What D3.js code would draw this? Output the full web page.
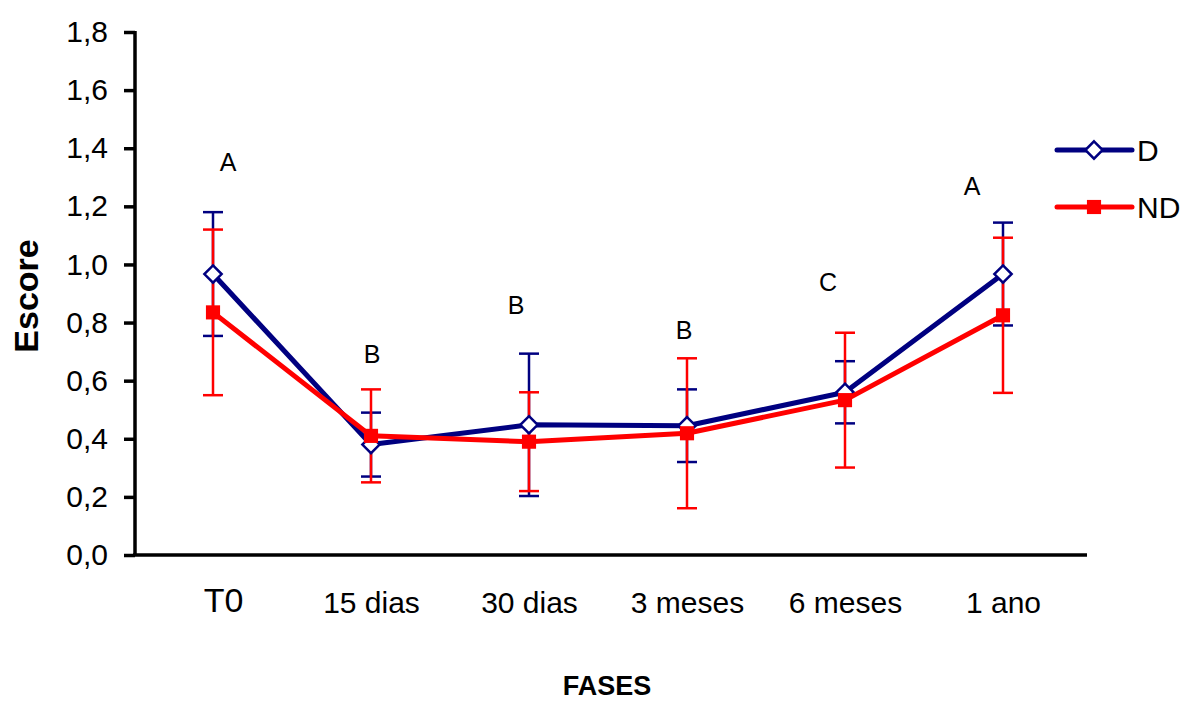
<!DOCTYPE html>
<html>
<head>
<meta charset="utf-8">
<script src="https://cdn.jsdelivr.net/npm/d3@7"></script>
<style>
  body { margin: 0; background: #fff; }
  svg { display: block; font-family: "Liberation Sans", Arial, sans-serif; }
</style>
</head>
<body>
<svg id="chart" width="1186" height="702"></svg>
<script>
"use strict";

// chart values
var fases = ["T0", "15 dias", "30 dias", "3 meses", "6 meses", "1 ano"];
var seriesNames = ["D", "ND"];
var dMean = [0.967, 0.38, 0.448, 0.445, 0.56, 0.967];
var dErr = [0.213, 0.11, 0.245, 0.125, 0.107, 0.177];
var ndMean = [0.835, 0.41, 0.39, 0.419, 0.533, 0.825];
var ndErr = [0.285, 0.16, 0.17, 0.258, 0.232, 0.267];
var letters = ["A", "B", "B", "B", "C", "A"];
var letterPos = [1.32, 0.66, 0.83, 0.745, 0.91, 1.24];
var yTicks = [0, 0.2, 0.4, 0.6, 0.8, 1.0, 1.2, 1.4, 1.6, 1.8];
var yTickLabels = ["0,0", "0,2", "0,4", "0,6", "0,8", "1,0", "1,2", "1,4", "1,6", "1,8"];

var navy = "#000080", red = "#ff0000";

var svg = d3.select("#chart"),
  x = d3.scalePoint().domain(fases).range([134, 1082]).padding(0.5),
  y = d3.scaleLinear().domain([0, 1.8]).range([555, 32]);

// y axis
var yAxis = svg.append("g")
  .attr("transform", "translate(135,0)")
  .call(d3.axisLeft(y).tickValues(yTicks).tickSize(11).tickPadding(16)
    .tickFormat(function(d, i) { return yTickLabels[i]; }));
yAxis.select(".domain").attr("stroke-width", 3.5).attr("d", "M0,31V556");
yAxis.selectAll(".tick line").attr("stroke-width", 3.5);
yAxis.selectAll(".tick text").attr("font-size", 30).attr("fill", "#000")
  .attr("font-family", "Liberation Sans, Arial, sans-serif");

// x axis
var xAxis = svg.append("g")
  .attr("transform", "translate(0,555)")
  .call(d3.axisBottom(x).tickSize(0).tickPadding(38));
xAxis.select(".domain").attr("stroke-width", 3.5).attr("d", "M133,0H1087");
xAxis.selectAll(".tick text")
  .attr("font-size", function(d, i) { return i === 0 ? 34 : 30; })
  .attr("dx", function(d, i) { return i === 0 ? 10 : 0; })
  .attr("dy", function(d, i) { return i === 0 ? "0.55em" : "0.65em"; })
  .attr("fill", "#000")
  .attr("font-family", "Liberation Sans, Arial, sans-serif");

// axis titles
svg.append("text")
  .attr("transform", "translate(38,296) rotate(-90)")
  .attr("text-anchor", "middle")
  .attr("font-size", 34).attr("font-weight", "bold")
  .text("Escore");

svg.append("text")
  .attr("x", 607).attr("y", 695)
  .attr("text-anchor", "middle")
  .attr("font-size", 27).attr("font-weight", "bold")
  .text("FASES");

function errorBars(mean, err, color, width) {
  var g = svg.append("g").attr("stroke", color).attr("stroke-width", width);
  fases.forEach(function(f, i) {
    var cx = x(f), top = y(mean[i] + err[i]), bot = y(mean[i] - err[i]);
    g.append("line").attr("x1", cx).attr("x2", cx).attr("y1", top).attr("y2", bot);
    g.append("line").attr("x1", cx - 10).attr("x2", cx + 10).attr("y1", top).attr("y2", top);
    g.append("line").attr("x1", cx - 10).attr("x2", cx + 10).attr("y1", bot).attr("y2", bot);
  });
}

errorBars(dMean, dErr, navy, 2.5);
errorBars(ndMean, ndErr, red, 2.5);

var line = d3.line()
  .x(function(d, i) { return x(fases[i]); })
  .y(function(d) { return y(d); });

svg.append("path").datum(dMean)
  .attr("fill", "none").attr("stroke", navy).attr("stroke-width", 5)
  .attr("stroke-linejoin", "round").attr("d", line);

var diamond = d3.symbol().type(d3.symbolDiamond2).size(190);
var square = d3.symbol().type(d3.symbolSquare).size(200);

svg.append("g").selectAll("path").data(dMean).join("path")
  .attr("transform", function(d, i) { return "translate(" + x(fases[i]) + "," + y(d) + ")"; })
  .attr("d", diamond)
  .attr("fill", "#fff").attr("stroke", navy).attr("stroke-width", 2.5);

svg.append("path").datum(ndMean)
  .attr("fill", "none").attr("stroke", red).attr("stroke-width", 5)
  .attr("stroke-linejoin", "round").attr("d", line);

svg.append("g").selectAll("path").data(ndMean).join("path")
  .attr("transform", function(d, i) { return "translate(" + x(fases[i]) + "," + y(d) + ")"; })
  .attr("d", square)
  .attr("fill", red);

// significance letters
var letterDx = [15, 1, -13, -3, -17, -31];
svg.append("g").selectAll("text").data(letters).join("text")
  .attr("x", function(d, i) { return x(fases[i]) + letterDx[i]; })
  .attr("y", function(d, i) { return y(letterPos[i]); })
  .attr("text-anchor", "middle")
  .attr("font-size", 25)
  .text(function(d) { return d; });

// legend
var legend = svg.append("g").attr("transform", "translate(1057,150)");
seriesNames.forEach(function(name, i) {
  var row = legend.append("g").attr("transform", "translate(0," + (i * 57) + ")"),
    color = i === 0 ? navy : red;
  row.append("line").attr("x1", 0).attr("x2", 75)
    .attr("stroke", color).attr("stroke-width", 5).attr("stroke-linecap", "round");
  if (i === 0) {
    row.append("path").attr("transform", "translate(37,0)").attr("d", diamond)
      .attr("fill", "#fff").attr("stroke", navy).attr("stroke-width", 2.5);
  } else {
    row.append("path").attr("transform", "translate(37,0)").attr("d", square)
      .attr("fill", red);
  }
  row.append("text").attr("x", 80).attr("dy", "0.36em")
    .attr("font-size", 30).text(name);
});
</script>
</body>
</html>
